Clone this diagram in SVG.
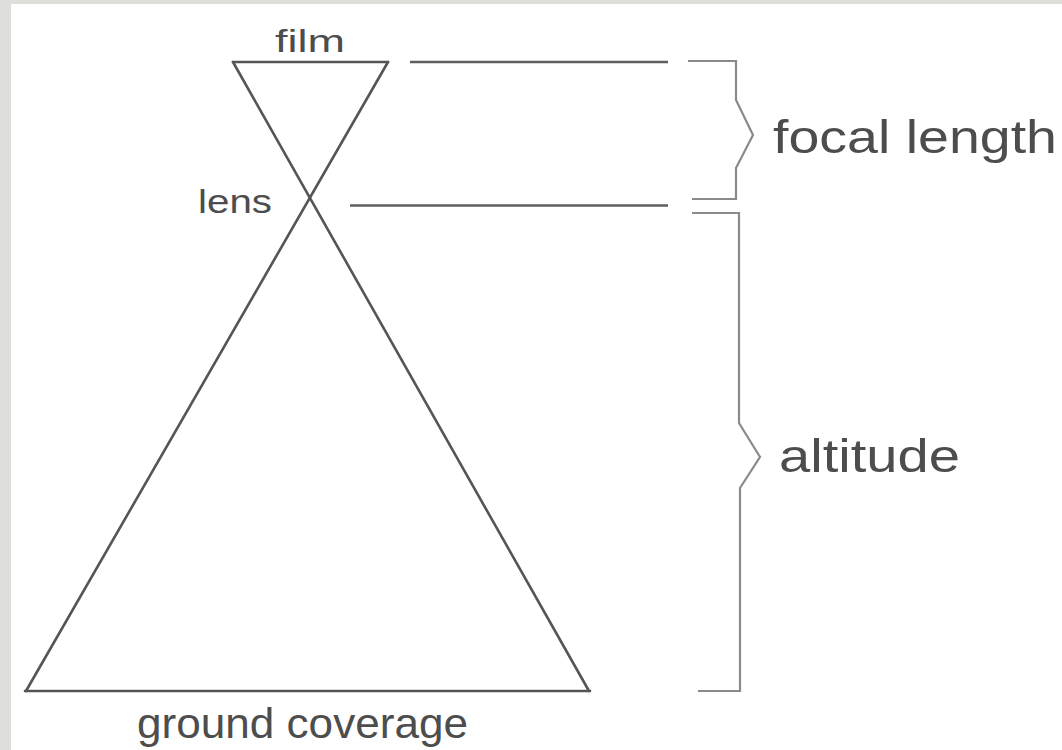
<svg xmlns="http://www.w3.org/2000/svg" width="1062" height="750" viewBox="0 0 1062 750">
  <style>
    .lbl { font-family: "Liberation Sans", Arial, Helvetica, sans-serif; fill: #4d4d4d; }
    .tri { stroke: #555555; stroke-width: 2.6; fill: none; stroke-linecap: round; stroke-linejoin: miter; }
    .ref { stroke: #5e5e5e; stroke-width: 2.4; fill: none; }
    .brace { stroke: #8a8a8a; stroke-width: 2.2; fill: none; stroke-linejoin: miter; }
  </style>
  <rect x="0" y="0" width="1062" height="750" fill="#dedfda"/>
  <rect x="11" y="4" width="1051" height="746" fill="#ffffff"/>

  <g id="connectors">
    <line class="tri" x1="233" y1="62" x2="388" y2="62"/>
    <line class="tri" x1="233" y1="62" x2="589" y2="691"/>
    <line class="tri" x1="388" y1="62" x2="26" y2="691"/>
    <line class="tri" x1="25" y1="691" x2="590" y2="691"/>
    <line class="ref" x1="410" y1="62" x2="668" y2="62"/>
    <line class="ref" x1="350" y1="205.5" x2="668" y2="205.5"/>
    <path class="brace" d="M688 61 H736 V100 L753 135 L736 168 V199 H692"/>
    <path class="brace" d="M692 213 H739 V423 L760 457 L740 488 V691 H698"/>
  </g>

  <g id="film">
    <text class="lbl" x="275" y="52" font-size="32" textLength="70" lengthAdjust="spacingAndGlyphs">film</text>
  </g>
  <g id="lens">
    <text class="lbl" x="198" y="213" font-size="34" textLength="74" lengthAdjust="spacingAndGlyphs">lens</text>
  </g>
  <g id="ground-coverage">
    <text class="lbl" x="137" y="738" font-size="42" textLength="331" lengthAdjust="spacingAndGlyphs">ground coverage</text>
  </g>
  <g id="focal-length">
    <text class="lbl" x="773" y="153" font-size="46" textLength="284" lengthAdjust="spacingAndGlyphs">focal length</text>
  </g>
  <g id="altitude">
    <text class="lbl" x="779" y="472" font-size="46" textLength="181" lengthAdjust="spacingAndGlyphs">altitude</text>
  </g>
</svg>
